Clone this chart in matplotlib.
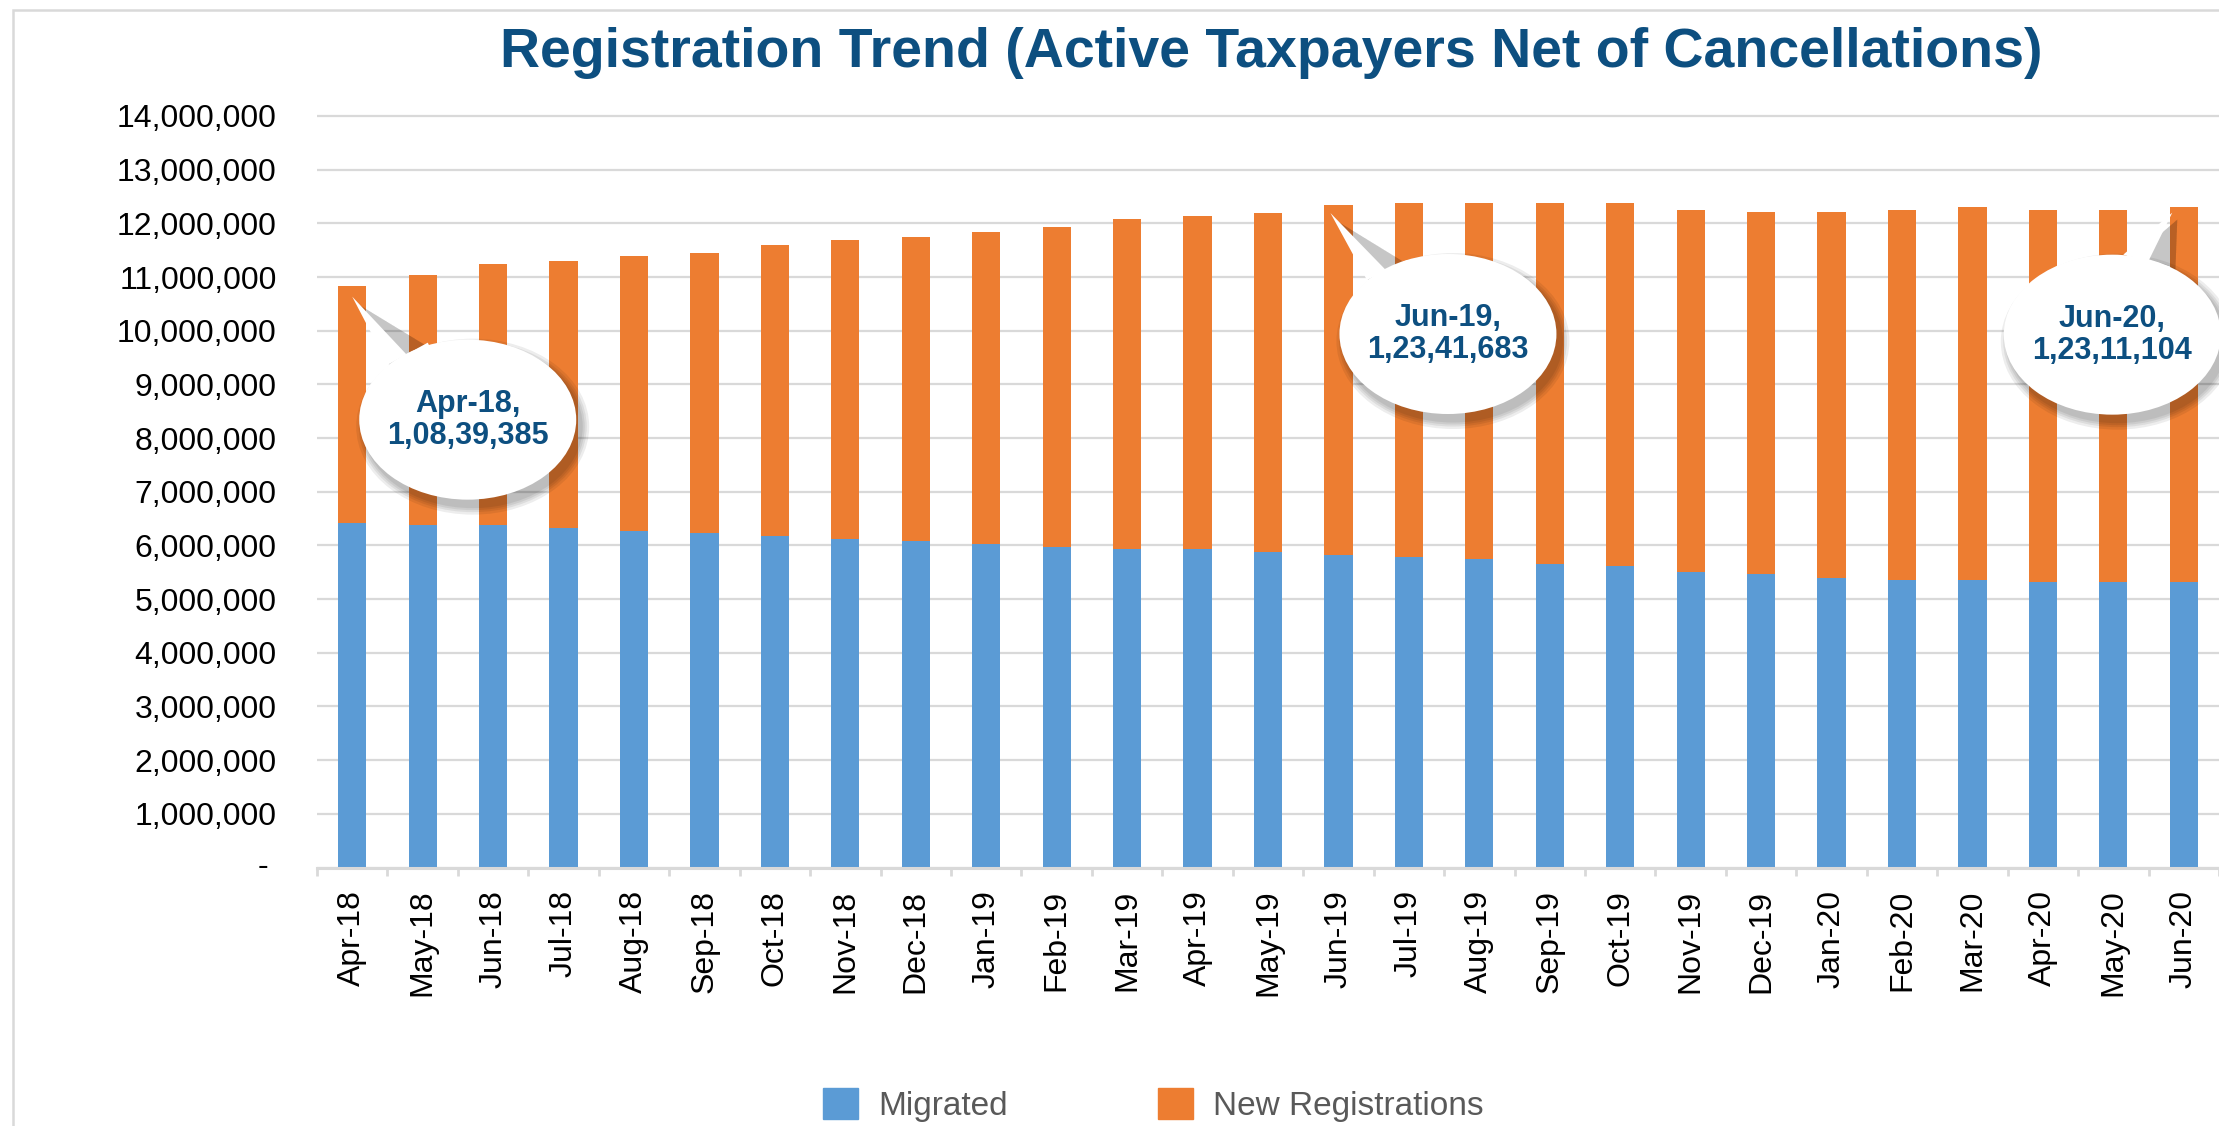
import matplotlib
matplotlib.use('Agg')
import matplotlib.pyplot as plt
import numpy as np
from matplotlib.patches import Ellipse, Polygon, Rectangle, Patch
from matplotlib.transforms import IdentityTransform
from matplotlib.ticker import FuncFormatter

plt.rcParams['font.family'] = ['Liberation Sans', 'DejaVu Sans']

# data
months = ['Apr-18', 'May-18', 'Jun-18', 'Jul-18', 'Aug-18', 'Sep-18', 'Oct-18',
          'Nov-18', 'Dec-18', 'Jan-19', 'Feb-19', 'Mar-19', 'Apr-19', 'May-19',
          'Jun-19', 'Jul-19', 'Aug-19', 'Sep-19', 'Oct-19', 'Nov-19', 'Dec-19',
          'Jan-20', 'Feb-20', 'Mar-20', 'Apr-20', 'May-20', 'Jun-20']
migrated = [6420000, 6380000, 6380000, 6330000, 6270000, 6230000, 6180000,
            6120000, 6080000, 6030000, 5970000, 5930000, 5930000, 5880000,
            5820000, 5780000, 5740000, 5650000, 5610000, 5500000, 5460000,
            5400000, 5350000, 5350000, 5310000, 5310000, 5310000]
new_registrations = [4419385, 4660000, 4860000, 4970000, 5120000, 5220000, 5420000,
                     5570000, 5670000, 5810000, 5960000, 6150000, 6210000, 6320000,
                     6521683, 6590000, 6630000, 6720000, 6760000, 6750000, 6760000,
                     6820000, 6900000, 6960000, 6940000, 6940000, 7001104]
callout_months = ['Apr-18', 'Jun-19', 'Jun-20']

title = 'Registration Trend (Active Taxpayers Net of Cancellations)'
blue = '#5B9BD5'
orange = '#ED7D31'
navy = '#0D4F80'
grid_grey = '#D9D9D9'

W, H = 2219, 1126


def indian_fmt(n):
    s = str(int(n))
    if len(s) <= 3:
        return s
    head, tail = s[:-3], s[-3:]
    groups = []
    while len(head) > 2:
        groups.insert(0, head[-2:])
        head = head[:-2]
    if head:
        groups.insert(0, head)
    return ','.join(groups + [tail])


fig = plt.figure(figsize=(W / 100, H / 100), dpi=100)

# plot area in pixels (image coords, y from top)
x_left, y_zero, y_top, cat_w = 317, 867.5, 110, 71.0
px_per_m = (867.5 - 116) / 14
ax = fig.add_axes([x_left / W, (H - y_zero) / H, (W - x_left) / W, (y_zero - y_top) / H])

x = np.arange(len(months))
ax.bar(x, migrated, width=0.4, color=blue, zorder=2)
ax.bar(x, new_registrations, bottom=migrated, width=0.4, color=orange, zorder=2)

ax.set_xlim(-0.5, -0.5 + (W - x_left) / cat_w)
ax.set_ylim(0, (y_zero - y_top) / px_per_m * 1e6)

ax.set_axisbelow(True)
ax.yaxis.grid(True, color=grid_grey, lw=1.6)
for s in ['left', 'right', 'top']:
    ax.spines[s].set_visible(False)
ax.spines['bottom'].set_color(grid_grey)
ax.spines['bottom'].set_linewidth(2.2)

ax.set_yticks(np.arange(0, 14000001, 1000000))
ax.yaxis.set_major_formatter(FuncFormatter(lambda v, p: '' if v == 0 else f'{v:,.0f}'))
ax.tick_params(axis='y', length=0, pad=29, labelsize=23, labelcolor='black')
ax.annotate('-', xy=(0, 0), xycoords=('axes fraction', 'data'), xytext=(-54, 0),
            textcoords='offset pixels', ha='center', va='center', fontsize=23)

ax.set_xticks(x)
ax.set_xticklabels(months, rotation=90, fontsize=23)
ax.tick_params(axis='x', which='major', length=0, pad=16)
ax.set_xticks(np.arange(-0.5, len(months), 1), minor=True)
ax.tick_params(axis='x', which='minor', length=6, width=2, color=grid_grey)

# title
fig.text(1271 / W, 1 - 53 / H, title, ha='center', va='center', fontsize=40,
         fontweight='bold', color=navy)

# outer frame
fig.add_artist(Rectangle((12.5, -20), 3000, H - 9.5 + 20, fill=False,
                         edgecolor=grid_grey, lw=1.8, transform=IdentityTransform()))

# callout bubbles: offsets in pixels (x right, y down) from the bar top
tip_off = [(0, 11), (-8, 8), (-11.5, 6)]
center_off = [(115.5, 134), (109.5, 129), (-71.5, 128)]
base_off = [[(-80, -55), (-40, -77)], [(-81, -54), (-41, -74)], [(11, -80), (58, -68)]]
ew, eh = 217, 160
ident = IdentityTransform()
for k, m in enumerate(callout_months):
    i = months.index(m)
    total = migrated[i] + new_registrations[i]
    bx, by = ax.transData.transform((i, total))
    tip = (bx + tip_off[k][0], by - tip_off[k][1])
    cx, cy = bx + center_off[k][0], by - center_off[k][1]
    b1 = (cx + base_off[k][0][0], cy - base_off[k][0][1])
    b2 = (cx + base_off[k][1][0], cy - base_off[k][1][1])
    # soft shadow
    for grow in [16, 11, 7, 3]:
        dx, dy = 5, -7
        fig.add_artist(Ellipse((cx + dx, cy + dy), ew + grow, eh + grow, color='black',
                               alpha=0.07, lw=0, transform=ident, zorder=5))
        fig.add_artist(Polygon([(tip[0] + dx, tip[1] + dy), (b1[0] + dx, b1[1] + dy),
                                (b2[0] + dx, b2[1] + dy)], closed=True, color='black',
                               alpha=0.06, lw=0, transform=ident, zorder=5))
    fig.add_artist(Polygon([tip, b1, b2, (cx, cy)], closed=True, color='white', lw=0,
                           transform=ident, zorder=6))
    fig.add_artist(Ellipse((cx, cy), ew, eh, color='white', lw=0, transform=ident, zorder=6))
    fig.text(cx, cy, f'{m},\n{indian_fmt(total)}', transform=ident, ha='center',
             va='center', fontsize=22, fontweight='bold', color=navy, zorder=7,
             linespacing=1.1)

# legend
handles = [Patch(color=blue, label='Migrated'), Patch(color=orange, label='New Registrations')]
fig.legend(handles=handles, loc='upper left', bbox_to_anchor=(823 / W, 1 - 1088 / H),
           ncol=2, frameon=False, fontsize=24, handlelength=1.05, handleheight=1.05,
           handletextpad=0.6, columnspacing=4.5, borderpad=0, borderaxespad=0,
           labelcolor='#595959')

plt.savefig('out.png', dpi=100)
